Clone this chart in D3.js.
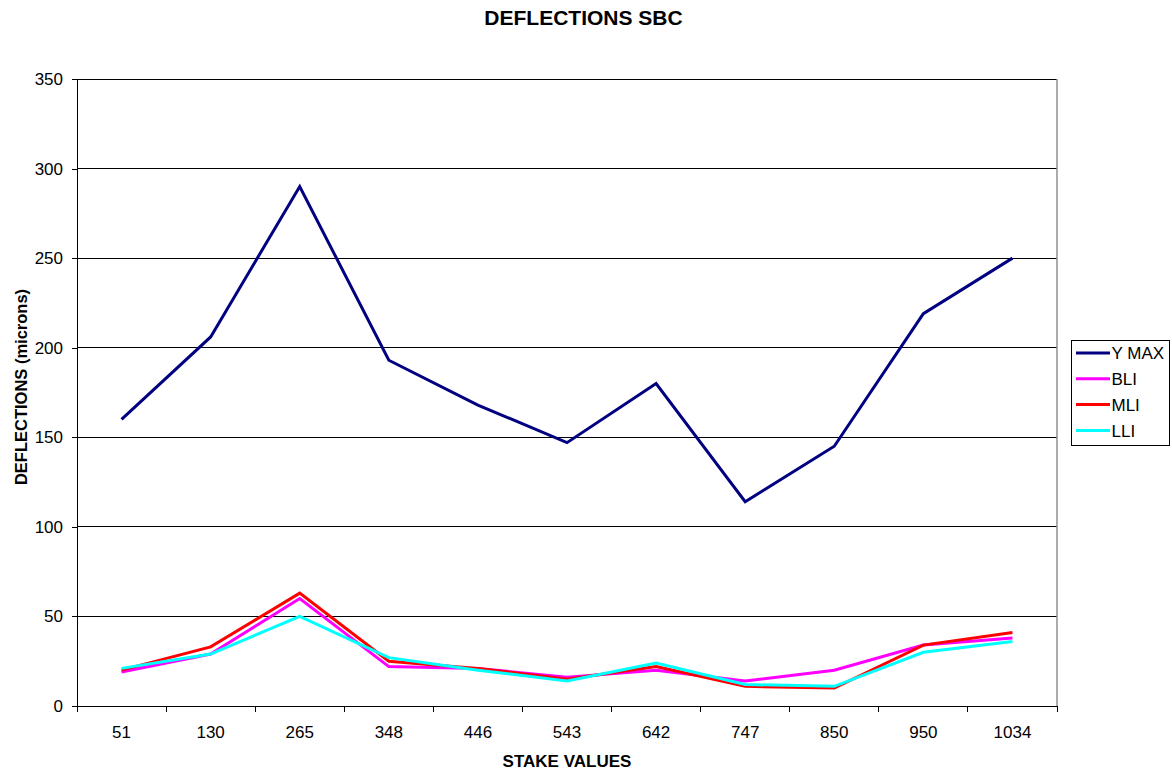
<!DOCTYPE html>
<html>
<head>
<meta charset="utf-8">
<script src="https://cdn.jsdelivr.net/npm/d3@7"></script>
<style>
  body { margin: 0; background: #fff; }
  svg { display: block; font-family: 'Liberation Sans', Arial, sans-serif; }
</style>
</head>
<body>
<div id="chart"></div>
<script>
// stake values along the x axis
const stakes = ["51", "130", "265", "348", "446", "543", "642", "747", "850", "950", "1034"]

// deflections (microns)
const yMax = [160, 206, 290, 193, 168, 147, 180, 114, 145, 219, 250]
const bli = [19, 29, 60, 22, 21, 16, 20, 14, 20, 34, 38]
const mli = [20, 33, 63, 25, 21, 15, 22, 11, 10, 34, 41]
const lli = [21, 29, 50, 27, 20, 14, 24, 12, 11, 30, 36]

const seriesNames = ["Y MAX", "BLI", "MLI", "LLI"]
const seriesColors = ["#000080", "#ff00ff", "#ff0000", "#00ffff"]
const yTicks = [0, 50, 100, 150, 200, 250, 300, 350]

const series = [yMax, bli, mli, lli].map((values, i) => ({
  name: seriesNames[i],
  color: seriesColors[i],
  values
}))

const width = 1172
const height = 772
const margin = { top: 79, right: 115, bottom: 66, left: 77 }
const fontFamily = "'Liberation Sans', Arial, sans-serif"

const svg = d3.select("#chart").append("svg")
  .attr("width", width)
  .attr("height", height)

const x = d3.scaleBand()
  .domain(stakes)
  .range([margin.left, width - margin.right])

const y = d3.scaleLinear()
  .domain([0, 350])
  .range([height - margin.bottom, margin.top])

// gridlines
svg.append("g")
  .selectAll("line")
  .data(yTicks.filter(d => d > 0))
  .join("line")
    .attr("x1", margin.left)
    .attr("x2", width - margin.right)
    .attr("y1", d => y(d))
    .attr("y2", d => y(d))
    .attr("stroke", "#000")
    .attr("stroke-width", 1)
    .attr("shape-rendering", "crispEdges")

// right border of plot area
svg.append("line")
  .attr("x1", width - margin.right)
  .attr("x2", width - margin.right)
  .attr("y1", margin.top)
  .attr("y2", height - margin.bottom)
  .attr("stroke", "#909090")
  .attr("stroke-width", 1.5)

// y axis
const yAxis = svg.append("g")
  .attr("transform", `translate(${margin.left},0)`)
  .call(d3.axisLeft(y).tickValues(yTicks).tickSize(5).tickPadding(9))
yAxis.select(".domain").attr("stroke", "#000").attr("shape-rendering", "crispEdges")
yAxis.selectAll(".tick line").attr("shape-rendering", "crispEdges")
yAxis.selectAll("text")
  .attr("font-size", 17)
  .attr("font-family", fontFamily)
  .attr("fill", "#000")

// x axis, ticks between categories
const xAxis = svg.append("g")
  .attr("transform", `translate(0,${height - margin.bottom})`)
  .call(d3.axisBottom(x).tickSize(0).tickPadding(20))
xAxis.select(".domain").attr("stroke", "#000").attr("shape-rendering", "crispEdges")
xAxis.selectAll("text")
  .attr("font-size", 17)
  .attr("font-family", fontFamily)
  .attr("fill", "#000")
xAxis.append("g")
  .selectAll("line")
  .data(stakes.map(d => x(d)).concat([x.range()[1]]))
  .join("line")
    .attr("x1", d => d)
    .attr("x2", d => d)
    .attr("y1", 0)
    .attr("y2", 6)
    .attr("stroke", "#000")
    .attr("shape-rendering", "crispEdges")

// lines
const line = d3.line()
  .x((d, i) => x(stakes[i]) + x.bandwidth() / 2)
  .y(d => y(d))

svg.append("g")
  .selectAll("path")
  .data(series)
  .join("path")
    .attr("d", d => line(d.values))
    .attr("fill", "none")
    .attr("stroke", d => d.color)
    .attr("stroke-width", 3)
    .attr("stroke-linejoin", "miter")

// titles
svg.append("text")
  .attr("x", 583.5)
  .attr("y", 25)
  .attr("text-anchor", "middle")
  .attr("font-size", 21)
  .attr("font-weight", "bold")
  .text("DEFLECTIONS SBC")

svg.append("text")
  .attr("x", (margin.left + width - margin.right) / 2)
  .attr("y", 767)
  .attr("text-anchor", "middle")
  .attr("font-size", 17)
  .attr("font-weight", "bold")
  .text("STAKE VALUES")

svg.append("text")
  .attr("transform", "translate(27,387) rotate(-90)")
  .attr("text-anchor", "middle")
  .attr("font-size", 16.5)
  .attr("font-weight", "bold")
  .text("DEFLECTIONS (microns)")

// legend
const legend = svg.append("g")
  .attr("transform", "translate(1071.5,340.5)")

legend.append("rect")
  .attr("width", 98)
  .attr("height", 105)
  .attr("fill", "#fff")
  .attr("stroke", "#000")

const item = legend.selectAll("g")
  .data(series)
  .join("g")
    .attr("transform", (d, i) => `translate(0,${12.5 + i * 25.8})`)

item.append("line")
  .attr("x1", 4.5)
  .attr("x2", 38.5)
  .attr("stroke", d => d.color)
  .attr("stroke-width", 3)

item.append("text")
  .attr("x", 40)
  .attr("dy", "0.36em")
  .attr("font-size", 17)
  .text(d => d.name)
</script>
</body>
</html>
